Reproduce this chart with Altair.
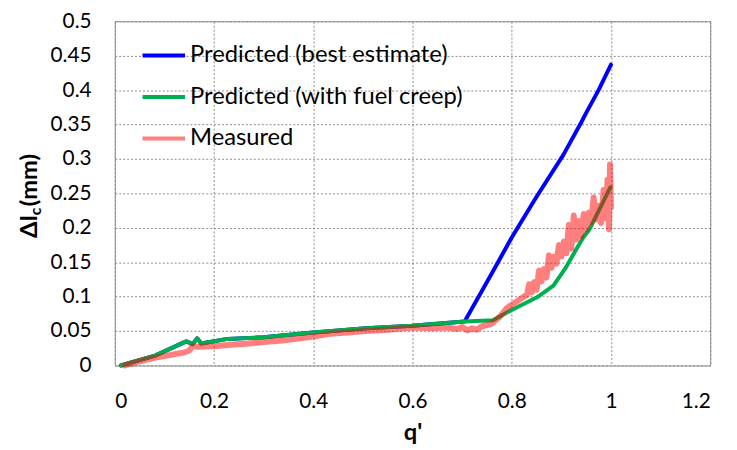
import altair as alt
import pandas as pd

series_names = ["Predicted (best estimate)", "Predicted (with fuel creep)", "Measured"]
series_colors = ["#0000FF", "#00B050", "rgba(255,0,0,0.5)"]

best_q = [0.012, 0.081, 0.144, 0.157, 0.166, 0.174, 0.227, 0.300, 0.400, 0.506, 0.599, 0.705,
          0.760, 0.800, 0.850, 0.904, 0.940, 0.950, 0.975, 1.000]
best_y = [0.000, 0.0143, 0.035, 0.031, 0.0396, 0.032, 0.0386, 0.041, 0.048, 0.054, 0.0576, 0.064,
          0.134, 0.186, 0.245, 0.306, 0.353, 0.367, 0.400, 0.437]

creep_q = [0.012, 0.081, 0.144, 0.157, 0.166, 0.174, 0.227, 0.300, 0.400, 0.506, 0.599, 0.705,
           0.762, 0.798, 0.851, 0.884, 0.908, 0.931, 0.944, 0.957, 0.999]
creep_y = [0.000, 0.0143, 0.035, 0.031, 0.0396, 0.032, 0.0386, 0.041, 0.048, 0.054, 0.0576, 0.0638,
           0.0657, 0.080, 0.099, 0.116, 0.141, 0.170, 0.186, 0.198, 0.259]

meas_q = [0.020, 0.050, 0.080, 0.110, 0.141, 0.150, 0.157, 0.167, 0.200, 0.234, 0.270, 0.300,
          0.333, 0.370, 0.400, 0.433, 0.470, 0.506, 0.550, 0.599, 0.640, 0.671, 0.690, 0.700,
          0.711, 0.720, 0.730, 0.740, 0.758, 0.775, 0.791, 0.810, 0.831, 0.835, 0.840, 0.845,
          0.850, 0.855, 0.860, 0.865, 0.870, 0.875, 0.880, 0.885, 0.890, 0.895, 0.900, 0.905,
          0.910, 0.915, 0.920, 0.925, 0.930, 0.935, 0.940, 0.945, 0.950, 0.955, 0.960, 0.965,
          0.970, 0.975, 0.980, 0.985, 0.990, 0.993, 0.996, 0.998, 1.000]
meas_y = [0.000, 0.006, 0.011, 0.015, 0.019, 0.022, 0.028, 0.027, 0.028, 0.030, 0.032, 0.034,
          0.036, 0.039, 0.042, 0.046, 0.048, 0.050, 0.052, 0.055, 0.054, 0.055, 0.053, 0.056,
          0.051, 0.054, 0.052, 0.057, 0.060, 0.070, 0.084, 0.093, 0.103, 0.118, 0.106, 0.121,
          0.110, 0.138, 0.122, 0.140, 0.128, 0.160, 0.142, 0.158, 0.148, 0.175, 0.158, 0.180,
          0.163, 0.204, 0.170, 0.218, 0.183, 0.210, 0.188, 0.220, 0.198, 0.222, 0.208, 0.244,
          0.212, 0.232, 0.207, 0.255, 0.214, 0.270, 0.198, 0.292, 0.230]

df = pd.concat([
    pd.DataFrame({"q": best_q, "y": best_y, "series": series_names[0], "ord": range(len(best_q))}),
    pd.DataFrame({"q": creep_q, "y": creep_y, "series": series_names[1], "ord": range(len(creep_q))}),
    pd.DataFrame({"q": meas_q, "y": meas_y, "series": series_names[2], "ord": range(len(meas_q))}),
])

FONT = "Lato"

color = alt.Color(
    "series:N",
    scale=alt.Scale(domain=series_names, range=series_colors),
    legend=alt.Legend(
        title=None, orient="none", legendX=26, legendY=11,
        symbolType="stroke", symbolSize=1849, symbolStrokeWidth=4,
        labelFontSize=24, labelFont=FONT, labelColor="#000000",
        labelOffset=3, rowPadding=6, labelLimit=400,
    ),
)

x = alt.X("q:Q", scale=alt.Scale(domain=[0, 1.2], nice=False),
          axis=alt.Axis(values=[0, 0.2, 0.4, 0.6, 0.8, 1.0, 1.2], format="~g",
                        title="q'", titleFontSize=24, titleFont=FONT, titleFontWeight="bold",
                        titleColor="#000000", titlePadding=10, labelPadding=25))
y = alt.Y("y:Q", scale=alt.Scale(domain=[0, 0.5], nice=False),
          axis=alt.Axis(values=[0, 0.05, 0.1, 0.15, 0.2, 0.25, 0.3, 0.35, 0.4, 0.45, 0.5],
                        format="~g", title=None, labelPadding=24))


def line(name, width):
    return alt.Chart(df).transform_filter(alt.datum.series == name).mark_line(
        strokeWidth=width, strokeJoin="round", strokeCap="round"
    ).encode(x=x, y=y, color=color, order="ord:Q")


base = alt.layer(
    line(series_names[0], 4),
    line(series_names[1], 4),
    line(series_names[2], 6),
)

t1 = alt.Chart(pd.DataFrame({"a": [0]})).mark_text(
    text="\u0394l", angle=270, align="left", baseline="alphabetic",
    font=FONT, fontSize=24, fontWeight="bold", color="#000000"
).encode(x=alt.value(-79), y=alt.value(219))
t2 = alt.Chart(pd.DataFrame({"a": [0]})).mark_text(
    text="c", angle=270, align="left", baseline="alphabetic",
    font=FONT, fontSize=16, fontWeight="bold", color="#000000"
).encode(x=alt.value(-75), y=alt.value(196))
t3 = alt.Chart(pd.DataFrame({"a": [0]})).mark_text(
    text="(mm)", angle=270, align="left", baseline="alphabetic",
    font=FONT, fontSize=24, fontWeight="bold", color="#000000"
).encode(x=alt.value(-79), y=alt.value(187))

chart = alt.layer(base, t1, t2, t3).properties(
    width=602, height=348,
    background="white",
    autosize=alt.AutoSizeParams(type="none"),
    padding={"left": 108, "top": 11, "right": 19, "bottom": 82},
).configure_view(
    stroke="#8c8c8c", strokeWidth=1
).configure_axis(
    grid=True, gridColor="#8c8c8c", gridDash=[2, 2], gridWidth=1, gridOpacity=1,
    domain=False, ticks=False,
    labelFont=FONT, labelFontSize=21, labelColor="#000000",
)

chart.save("out.html", embed_options={"renderer": "svg", "actions": False})
